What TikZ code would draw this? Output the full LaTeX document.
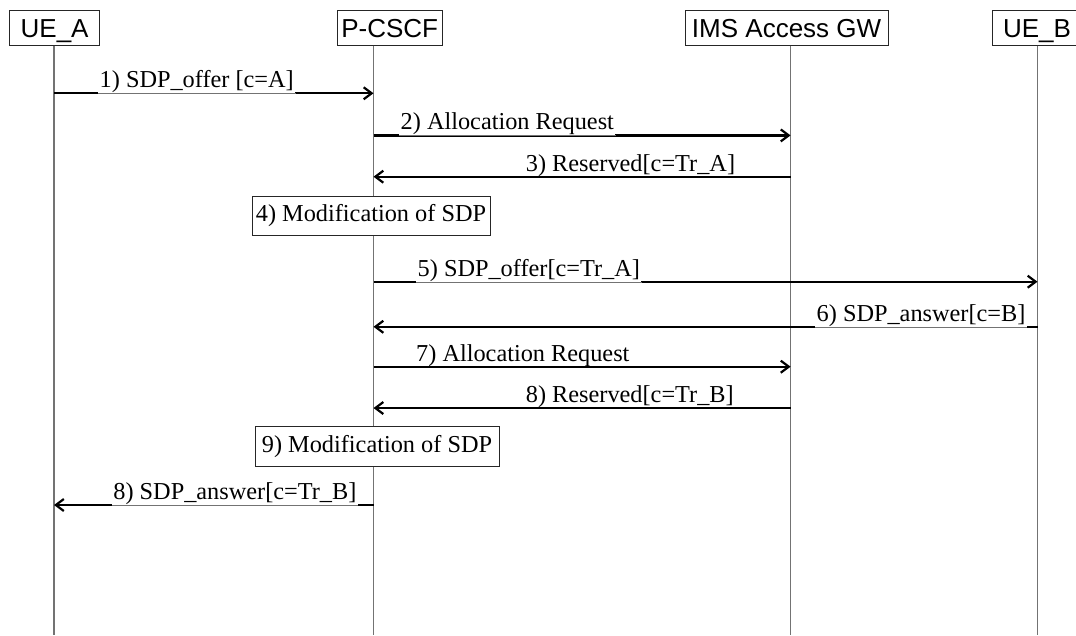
\documentclass[tikz,border=0pt]{standalone}
\usepackage{fontspec}
\setmainfont{Liberation Serif}
\newfontfamily\hdrfont{Liberation Sans}
\usetikzlibrary{arrows.meta}
\begin{document}
\begin{tikzpicture}[x=1pt,y=-1pt,
  hdr/.style={draw=black!85, line width=0.9pt, minimum height=35.5pt, text height=18.6pt, text depth=0pt, font=\hdrfont\fontsize{26}{30}\selectfont, inner sep=0pt},
  life/.style={draw=black!55, line width=1.2pt},
  msg/.style={line width=2.2pt, -{Straight Barb[length=8pt,width=12pt,line width=2.2pt]}},
  lbl/.style={anchor=base west, inner sep=0pt, font=\fontsize{24.3}{29}\selectfont},
  lblcut/.style={lbl, fill=white, inner xsep=1.5pt, text depth=5.7pt},
  under/.style={draw=black!55, line width=0.9pt},
  actbox/.style={draw=black!85, line width=0.9pt, fill=white, font=\fontsize{24.3}{29}\selectfont, inner sep=0pt}
]
\useasboundingbox (0,0) rectangle (1076,635);

% headers
\node[hdr, minimum width=90.6pt] (UEA) at (54.6,28) {UE\_A};
\node[hdr, minimum width=105.5pt] (PCSCF) at (389.7,28) {P-CSCF};
\node[hdr, minimum width=202.7pt] (GW) at (786.6,28) {IMS Access GW};
\node[hdr, minimum width=90pt] (UEB) at (1037,28) {UE\_B};

% lifelines
\coordinate (tA) at (54,45.7);   \coordinate (bA) at (54,635);
\coordinate (tP) at (373.5,45.7); \coordinate (bP) at (373.5,635);
\coordinate (tG) at (790.6,45.7); \coordinate (bG) at (790.6,635);
\coordinate (tB) at (1037.5,45.7); \coordinate (bB) at (1037.5,635);
\draw[life] (tA) -- (bA);
\draw[life] (tP) -- (bP);
\draw[life] (tG) -- (bG);
\draw[life] (tB) -- (bB);

% message end points
\coordinate (m1s) at (54,93.3);     \coordinate (m1e) at (373.5,93.3);
\coordinate (m2s) at (373.5,135.4); \coordinate (m2e) at (790.6,135.4);
\coordinate (m3s) at (790.6,176.7); \coordinate (m3e) at (373.5,176.7);
\coordinate (m5s) at (373.5,281.7); \coordinate (m5e) at (1037.5,281.7);
\coordinate (m6s) at (1037.5,326.8);  \coordinate (m6e) at (373.5,326.8);
\coordinate (m7s) at (373.5,366.7); \coordinate (m7e) at (790.6,366.7);
\coordinate (m8s) at (790.6,408);   \coordinate (m8e) at (373.5,408);
\coordinate (m9s) at (373.5,505);   \coordinate (m9e) at (54,505);

\draw[msg] (m1s) -- (m1e);
\node[lblcut] (l1) at (98,87.7) {1) SDP\_offer [c=A]};
\draw[under] (l1.south west) -- (l1.south east);
\draw[msg] (m2s) -- (m2e);
\node[lblcut] (l2) at (399,129.8) {2) Allocation Request};
\draw[under] (l2.south west) -- (l2.south east);
\draw[msg] (m3s) -- (m3e);
\node[lbl] (l3) at (525.7,171.5) {3) Reserved[c=Tr\_A]};

\node[actbox, minimum width=238pt, minimum height=39pt] (b4) at (371,215.5) {4) Modification of SDP};

\draw[msg] (m5s) -- (m5e);
\node[lblcut] (l5) at (416,276.1) {5) SDP\_offer[c=Tr\_A]};
\draw[under] (l5.south west) -- (l5.south east);
\draw[msg] (m6s) -- (m6e);
\node[lblcut] (l6) at (815,321.2) {6) SDP\_answer[c=B]};
\draw[under] (l6.south west) -- (l6.south east);
\draw[msg] (m7s) -- (m7e);
\node[lbl] (l7) at (416,361.5) {7) Allocation Request};
\draw[msg] (m8s) -- (m8e);
\node[lbl] (l8) at (525.7,402.8) {8) Reserved[c=Tr\_B]};

\node[actbox, minimum width=244pt, minimum height=40pt] (b9) at (377,446.7) {9) Modification of SDP};

\draw[msg] (m9s) -- (m9e);
\node[lblcut] (l9) at (111.7,499.4) {8) SDP\_answer[c=Tr\_B]};
\draw[under] (l9.south west) -- (l9.south east);
\end{tikzpicture}
\end{document}
